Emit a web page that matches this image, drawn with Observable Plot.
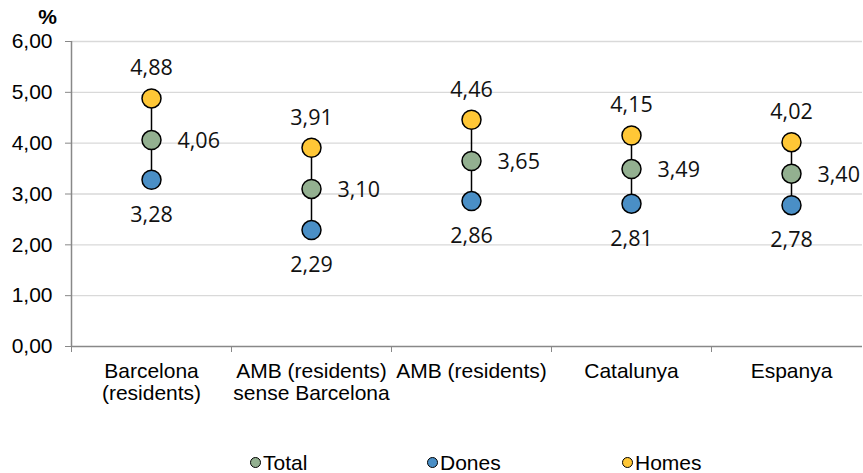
<!DOCTYPE html>
<html>
<head>
<meta charset="utf-8">
<script src="https://cdn.jsdelivr.net/npm/d3@7"></script>
<script src="https://cdn.jsdelivr.net/npm/@observablehq/plot@0.6"></script>
<style>
  html, body { margin: 0; padding: 0; background: #fff; }
  #chart { position: relative; width: 863px; height: 473px; }
  .legend { position: relative; height: 33px; margin-top: 6px; font-family: "Liberation Sans", Arial, sans-serif; font-size: 21px; color: #000; }
  .item { position: absolute; top: 0; height: 33px; display: flex; align-items: center; }
  .sw { width: 9px; height: 9px; border-radius: 50%; border: 1.5px solid #000; margin-right: 2px; }
</style>
</head>
<body>
<div id="chart"></div>
<script>
const categories = ["Barcelona\n(residents)", "AMB (residents)\nsense Barcelona", "AMB (residents)", "Catalunya", "Espanya"];
const total = [4.06, 3.10, 3.65, 3.49, 3.40];
const dones = [3.28, 2.29, 2.86, 2.81, 2.78];
const homes = [4.88, 3.91, 4.46, 4.15, 4.02];
const yTicks = [0, 1, 2, 3, 4, 5, 6];
const seriesNames = ["Total", "Dones", "Homes"];
const seriesColors = ["#93b090", "#4a8fc6", "#ffc736"];

const fmt = v => d3.format(".2f")(v).replace(".", ",");
const rows = categories.map((c, i) => ({i, c, total: total[i], dones: dones[i], homes: homes[i]}));

const arial = "Liberation Sans, Arial, sans-serif";
const calibri = "Open Sans, Carlito, Calibri, sans-serif";

const plot = Plot.plot({
  width: 863,
  height: 440,
  marginTop: 41,
  marginBottom: 94,
  marginLeft: 71,
  marginRight: 1,
  style: {fontFamily: arial, fontSize: "21px", color: "#000", background: "#fff", overflow: "visible"},
  x: {type: "linear", domain: [-0.5, 4.5], range: [71, 871]},
  y: {domain: [0, 6]},
  marks: [
    Plot.ruleY(yTicks.filter(d => d > 0), {stroke: "#d9d9d9", strokeWidth: 1.3}),
    Plot.axisY({ticks: yTicks, tickFormat: fmt, tickSize: 6, tickPadding: 13, stroke: "#888", label: null, fontSize: 21, fontFamily: arial, fill: "#000"}),
    Plot.ruleX([-0.5], {stroke: "#888", strokeWidth: 1.5}),
    Plot.ruleY([0], {stroke: "#888", strokeWidth: 1.5}),
    Plot.axisX({ticks: [-0.5, 0.5, 1.5, 2.5, 3.5, 4.5], tickFormat: () => "", tickSize: 6, stroke: "#888", label: null}),
    Plot.axisX({ticks: [0, 1, 2, 3, 4], tickFormat: i => categories[i], tickSize: 0, tickPadding: 15, label: null, fontSize: 21, fontFamily: arial, lineHeight: 1.08, fill: "#000"}),
    Plot.ruleX(rows, {x: "i", y1: "dones", y2: "homes", stroke: "#000", strokeWidth: 1.5}),
    Plot.dot(rows, {x: "i", y: "homes", r: 9.5, fill: seriesColors[2], stroke: "#000", strokeWidth: 1.5}),
    Plot.dot(rows, {x: "i", y: "total", r: 9.5, fill: seriesColors[0], stroke: "#000", strokeWidth: 1.5}),
    Plot.dot(rows, {x: "i", y: "dones", r: 9.5, fill: seriesColors[1], stroke: "#000", strokeWidth: 1.5}),
    Plot.text(rows, {x: "i", y: "homes", text: d => fmt(d.homes), dy: -30, fontFamily: calibri, fontSize: 21.5, fill: "#111"}),
    Plot.text(rows, {x: "i", y: "dones", text: d => fmt(d.dones), dy: 35, fontFamily: calibri, fontSize: 21.5, fill: "#111"}),
    Plot.text(rows, {x: "i", y: "total", text: d => fmt(d.total), dx: 26, dy: 1, textAnchor: "start", fontFamily: calibri, fontSize: 21.5, fill: "#111"}),
    Plot.text(["%"], {frameAnchor: "top-left", dx: 47 - 71, dy: 23 - 41, text: d => d, fontWeight: "bold", fontSize: 21, textAnchor: "middle", lineAnchor: "bottom", fill: "#000", fontFamily: arial})
  ]
});

const chart = document.getElementById("chart");
chart.appendChild(plot);

const legend = document.createElement("div");
legend.className = "legend";
const lefts = [250, 427, 622];
seriesNames.forEach((name, k) => {
  const item = document.createElement("div");
  item.className = "item";
  item.style.left = lefts[k] + "px";
  const sw = document.createElement("span");
  sw.className = "sw";
  sw.style.background = seriesColors[k];
  const t = document.createElement("span");
  t.textContent = name;
  item.appendChild(sw);
  item.appendChild(t);
  legend.appendChild(item);
});
chart.appendChild(legend);
</script>
</body>
</html>
